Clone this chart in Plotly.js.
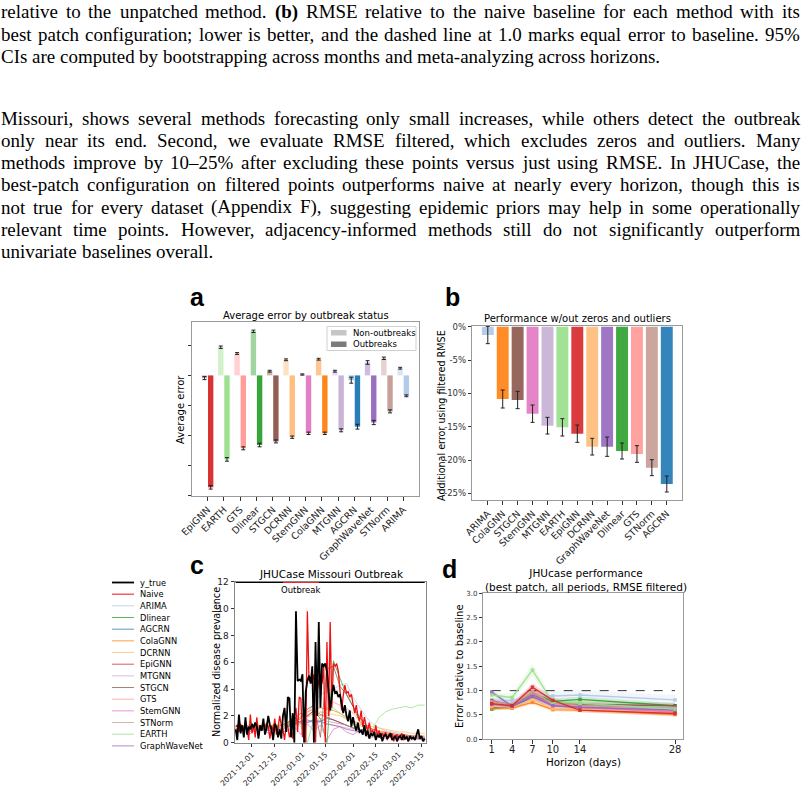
<!DOCTYPE html>
<html><head><meta charset="utf-8">
<script src="https://cdn.plot.ly/plotly-3.0.1.min.js"></script>
<style>html,body{margin:0;padding:0;background:#fff;overflow:hidden}#chart{width:805px;height:790px}</style>
</head><body><div id="chart"></div>
<script>
// ================= DATA =================
// Panel a: average error by outbreak status (unlabelled axis units)
const catsA = ['EpiGNN','EARTH','GTS','Dlinear','STGCN','DCRNN','StemGNN','ColaGNN','MTGNN','AGCRN','GraphWaveNet','STNorm','ARIMA'];
const nonOutbreakA = [-0.09, 0.94, 0.73, 1.47, 0.14, 0.52, 0.03, 0.54, 0.14, -0.16, 0.43, 0.57, 0.24];
const nonOutbreakErrA = [0.05, 0.04, 0.03, 0.04, 0.03, 0.03, 0.02, 0.03, 0.03, 0.10, 0.06, 0.04, 0.03];
const outbreakA = [-3.73, -2.80, -2.43, -2.32, -2.20, -2.06, -1.93, -1.93, -1.83, -1.71, -1.57, -1.20, -0.68];
const outbreakErrA = [0.06, 0.06, 0.05, 0.06, 0.05, 0.04, 0.04, 0.04, 0.05, 0.08, 0.07, 0.05, 0.03];

// Panel b: additional error using filtered RMSE (%)
const catsB = ['ARIMA','ColaGNN','STGCN','StemGNN','MTGNN','EARTH','EpiGNN','DCRNN','GraphWaveNet','Dlinear','GTS','STNorm','AGCRN'];
const filteredB = [-1.25, -10.85, -11.0, -13.05, -14.85, -15.1, -16.05, -18.0, -18.0, -18.65, -19.1, -21.15, -23.6];
const filteredErrB = [1.3, 1.35, 1.3, 1.3, 1.25, 1.3, 1.3, 1.25, 1.45, 1.2, 1.25, 1.2, 1.2];
const pctTicksB = [0, -5, -10, -15, -20, -25];
const pctLabelsB = ['0%', '-5%', '-10%', '-15%', '-20%', '-25%'];

// Panel c: JHUCase Missouri (daily from 2021-11-21, 117 days)
const cStart = '2021-11-21';
const yTrue = [1.0,0.2,2.1,0.7,1.3,0.4,1.9,0.6,1.2,1.0,
  1.4,1.1,1.5,1.2,0.3,1.3,0.9,1.8,0.6,1.1,
  2.0,1.3,1.0,0.2,1.4,1.2,0.4,1.0,0.3,2.0,
  2.6,0.8,3.4,3.3,0.4,2.2,0.0,9.8,4.6,4.7,
  4.6,5.1,0.0,3.8,4.6,5.0,4.4,5.7,0.0,7.5,
  2.0,9.0,2.6,5.9,5.7,5.9,5.3,3.9,2.4,3.5,
  4.3,3.7,3.8,3.4,3.6,2.9,2.2,2.8,2.0,1.6,
  2.4,1.2,1.9,1.3,0.9,1.5,0.8,0.9,0.6,1.3,
  0.5,0.9,0.3,0.7,0.5,0.8,0.2,0.6,0.4,0.7,
  0.1,0.5,0.6,0.3,0.5,0.7,0.2,0.4,0.5,0.1,
  0.4,0.5,0.2,0.6,0.3,0.4,0.1,0.5,0.3,0.4,
  0.2,0.6,1.0,0.3,0.5,0.1,0.3];
const naive = [1.2,1.3,0.8,1.4,1.1,0.9,1.3,
  1.0,0.2,2.1,0.7,1.3,0.4,1.9,0.6,1.2,1.0,
  1.4,1.1,1.5,1.2,0.3,1.3,0.9,1.8,0.6,1.1,
  2.0,1.3,1.0,0.2,1.4,1.2,0.4,1.0,0.3,2.0,
  2.6,0.8,3.4,3.3,0.4,2.2,0.0,9.8,4.6,4.7,
  4.6,5.1,0.0,3.8,4.6,5.0,4.4,5.7,0.0,7.5,
  2.0,9.0,2.6,5.9,5.7,5.9,5.3,3.9,2.4,3.5,
  4.3,3.7,3.8,3.4,3.6,2.9,2.2,2.8,2.0,1.6,
  2.4,1.2,1.9,1.3,0.9,1.5,0.8,0.9,0.6,1.3,
  0.5,0.9,0.3,0.7,0.5,0.8,0.2,0.6,0.4,0.7,
  0.1,0.5,0.6,0.3,0.5,0.7,0.2,0.4,0.5,0.1];
// model forecasts, every 4th day from 2021-11-21
const c_ARIMA   = [1.1,1.0,1.2,1.1,1.0,1.2,1.1,1.0,1.3,1.4,1.6,2.2,2.9,3.6,3.8,4.0,4.3,4.4,3.4,2.6,1.9,1.4,1.1,0.9,0.8,0.7,0.6,0.5,0.5,0.4];
const c_Dlinear = [1.0,1.2,0.9,1.1,1.0,1.2,0.9,1.1,1.5,1.9,1.4,2.0,2.4,1.8,0.0,6.1,4.8,3.6,2.7,1.6,1.1,0.8,0.6,0.5,0.5,0.4,0.4,0.3,0.3,0.3];
const c_AGCRN   = [1.0,1.1,1.0,1.2,1.1,1.0,1.2,1.1,1.3,1.4,1.6,1.7,1.5,1.6,1.8,1.7,1.5,1.3,1.1,1.0,0.8,0.7,0.6,0.5,0.5,0.4,0.4,0.3,0.3,0.3];
const c_ColaGNN = [1.3,1.2,1.3,1.2,1.3,1.2,1.3,1.3,1.4,1.5,2.0,2.3,2.5,2.6,2.5,2.4,2.2,1.9,1.6,1.4,1.2,1.0,0.9,0.8,0.7,0.6,0.6,0.5,0.5,0.5];
const c_DCRNN   = [1.2,1.3,1.2,1.4,1.3,1.2,1.4,1.3,1.5,1.7,1.9,2.1,2.2,2.3,2.2,2.1,2.0,1.8,1.6,1.5,1.3,1.2,1.1,1.0,0.9,0.8,0.8,0.7,0.7,0.7];
const c_EpiGNN  = [1.0,1.2,1.1,1.3,1.0,1.2,1.1,1.3,1.5,1.8,2.2,2.0,2.4,2.1,1.9,1.7,1.5,1.3,1.1,1.0,0.9,0.8,0.7,0.6,0.6,0.5,0.5,0.5,0.4,0.4];
const c_MTGNN   = [0.9,1.0,0.9,1.1,1.0,0.9,1.0,1.1,1.2,1.3,1.4,1.5,1.6,1.5,1.4,1.3,1.2,1.1,1.0,0.9,0.8,0.8,0.7,0.6,0.6,0.5,0.5,0.4,0.4,0.4];
const c_STGCN   = [0.9,1.1,0.8,1.0,1.2,0.9,1.1,1.0,1.3,1.6,1.8,2.5,2.8,0.4,5.5,5.7,4.2,3.6,2.7,1.9,1.3,1.0,0.8,0.7,0.6,0.5,0.5,0.4,0.4,0.3];
const c_GTS     = [1.1,1.3,1.0,1.2,1.1,1.3,1.2,1.0,1.4,1.7,1.5,1.9,2.2,2.0,2.6,3.0,2.8,2.6,2.2,1.6,1.2,0.9,0.8,0.7,0.6,0.6,0.5,0.5,0.4,0.4];
const c_StemGNN = [0.8,1.0,0.6,0.9,1.1,0.7,1.0,0.8,0.9,1.2,0.6,1.4,0.9,1.3,0.2,1.0,1.2,0.8,0.6,0.9,0.5,0.4,0.6,0.3,0.4,0.2,0.3,0.2,0.3,0.1];
const c_STNorm  = [1.1,1.0,1.2,1.1,1.0,1.2,1.1,1.2,1.3,1.4,1.5,1.6,1.7,1.8,1.6,1.5,1.4,1.3,1.1,1.0,0.9,0.8,0.7,0.7,0.6,0.6,0.5,0.5,0.5,0.4];
const c_EARTH   = [1.2,1.0,1.3,1.1,1.2,1.0,1.4,1.1,1.3,1.6,1.2,0.0,1.8,2.3,2.0,2.6,2.2,1.7,1.4,1.3,1.0,1.0,1.9,2.3,2.5,2.6,2.7,2.6,2.8,2.8];
const c_GraphWaveNet = [1.0,0.9,1.1,1.0,0.9,1.1,1.0,0.9,1.2,1.4,1.6,1.5,1.7,1.6,1.4,1.3,1.2,1.0,0.9,0.8,0.7,0.6,0.6,0.5,0.5,0.4,0.4,0.4,0.3,0.3];
const outbreakStart = '2021-12-20', outbreakEnd = '2022-01-11';
const cTickDates = ['2021-12-01','2021-12-15','2022-01-01','2022-01-15','2022-02-01','2022-02-15','2022-03-01','2022-03-15'];

// Panel d: error relative to baseline by horizon
const horizons = [1, 4, 7, 10, 14, 28];
const d_ARIMA   = [0.78,0.80,0.92,0.89,0.91,0.81]; const h_ARIMA   = [0.06,0.08,0.10,0.10,0.10,0.10];
const d_Dlinear = [0.62,0.69,0.95,0.78,0.82,0.69]; const h_Dlinear = [0.04,0.05,0.07,0.06,0.06,0.05];
const d_AGCRN   = [0.66,0.66,0.88,0.72,0.70,0.60]; const h_AGCRN   = [0.04,0.05,0.07,0.05,0.05,0.05];
const d_ColaGNN = [0.64,0.64,0.76,0.61,0.60,0.51]; const h_ColaGNN = [0.04,0.04,0.05,0.04,0.04,0.04];
const d_DCRNN   = [0.68,0.66,0.82,0.63,0.62,0.55]; const h_DCRNN   = [0.05,0.05,0.07,0.05,0.05,0.05];
const d_EpiGNN  = [0.73,0.69,1.07,0.80,0.60,0.53]; const h_EpiGNN  = [0.05,0.05,0.08,0.06,0.05,0.05];
const d_MTGNN   = [0.70,0.70,0.90,0.72,0.68,0.62]; const h_MTGNN   = [0.05,0.05,0.07,0.05,0.05,0.05];
const d_STGCN   = [0.80,0.68,0.91,0.74,0.72,0.69]; const h_STGCN   = [0.05,0.05,0.07,0.06,0.06,0.06];
const d_GTS     = [0.75,0.70,1.00,0.72,0.68,0.58]; const h_GTS     = [0.06,0.06,0.09,0.06,0.06,0.06];
const d_StemGNN = [0.72,0.68,0.90,0.70,0.66,0.56]; const h_StemGNN = [0.05,0.05,0.07,0.05,0.05,0.05];
const d_STNorm  = [0.78,0.72,0.95,0.74,0.70,0.64]; const h_STNorm  = [0.07,0.06,0.09,0.07,0.07,0.07];
const d_EARTH   = [0.91,0.86,1.42,0.76,0.74,0.62]; const h_EARTH   = [0.06,0.08,0.12,0.07,0.07,0.07];
const d_GraphWaveNet = [0.97,0.68,0.88,0.69,0.66,0.60]; const h_GraphWaveNet = [0.05,0.05,0.07,0.05,0.05,0.05];
const baselineLevel = 1.0;

// Page text
const captionLines = [
  'relative to the unpatched method. <b>(b)</b> RMSE relative to the naive baseline for each method with its',
  'best patch configuration; lower is better, and the dashed line at 1.0 marks equal error to baseline. 95%',
  'CIs are computed by bootstrapping across months and meta-analyzing across horizons.'
];
const paragraphLines = [
  'Missouri, shows several methods forecasting only small increases, while others detect the outbreak',
  'only near its end. Second, we evaluate RMSE filtered, which excludes zeros and outliers. Many',
  'methods improve by 10–25% after excluding these points versus just using RMSE. In JHUCase, the',
  'best-patch configuration on filtered points outperforms naive at nearly every horizon, though this is',
  'not true for every dataset (Appendix F), suggesting epidemic priors may help in some operationally',
  'relevant time points. However, adjacency-informed methods still do not significantly outperform',
  'univariate baselines overall.'
];

// ================= STYLE =================
const COLOR = {
  EpiGNN:'#d62728', EARTH:'#98df8a', GTS:'#ff9896', Dlinear:'#2ca02c', STGCN:'#8c564b',
  DCRNN:'#ffbb78', StemGNN:'#e377c2', ColaGNN:'#ff7f0e', MTGNN:'#c5b0d5', AGCRN:'#1f77b4',
  GraphWaveNet:'#9467bd', STNorm:'#c49c94', ARIMA:'#aec7e8'
};
function rgba(hex, a){ const n = parseInt(hex.slice(1),16); return `rgba(${n>>16},${(n>>8)&255},${n&255},${a})`; }
const W = 805, H = 790;
const px = x => x / W;
const py = y => 1 - y / H;
const FONT = 'DejaVu Sans';

function dayList(start, n, step){
  const t0 = Date.parse(start + 'T00:00:00Z'); const out = [];
  for(let k=0;k<n;k++) out.push(new Date(t0 + k*step*86400000).toISOString().slice(0,10));
  return out;
}
const datesDaily = dayList(cStart, yTrue.length, 1);
const dates4 = dayList(cStart, c_ARIMA.length, 4);

const axBase = {showline:true, mirror:true, linecolor:'#9a9a9a', linewidth:1, ticks:'outside', ticklen:3.5,
  tickwidth:1, tickcolor:'#333', showgrid:false, zeroline:false, fixedrange:true,
  tickfont:{family:FONT, size:9, color:'#222'}};

const traces = [];
// ---- panel a ----
traces.push({type:'bar', x:catsA, y:nonOutbreakA, width:0.33, offset:-0.36, xaxis:'x', yaxis:'y',
  marker:{color:catsA.map(c=>rgba(COLOR[c],0.45))},
  error_y:{type:'data', array:nonOutbreakErrA, visible:true, color:'#222', thickness:1, width:2}, hoverinfo:'skip'});
traces.push({type:'bar', x:catsA, y:outbreakA, width:0.33, offset:0.02, xaxis:'x', yaxis:'y',
  marker:{color:catsA.map(c=>rgba(COLOR[c],0.95))},
  error_y:{type:'data', array:outbreakErrA, visible:true, color:'#222', thickness:1, width:2}, hoverinfo:'skip'});
// ---- panel b ----
traces.push({type:'bar', x:catsB, y:filteredB, width:0.8, xaxis:'x2', yaxis:'y2',
  marker:{color:catsB.map(c=>rgba(COLOR[c],0.9))},
  error_y:{type:'data', array:filteredErrB, visible:true, color:'#222', thickness:1, width:2}, hoverinfo:'skip'});
// ---- panel c ----
const cSeries = [['ARIMA',c_ARIMA],['Dlinear',c_Dlinear],['AGCRN',c_AGCRN],['ColaGNN',c_ColaGNN],['DCRNN',c_DCRNN],
  ['EpiGNN',c_EpiGNN],['MTGNN',c_MTGNN],['STGCN',c_STGCN],['GTS',c_GTS],['StemGNN',c_StemGNN],['STNorm',c_STNorm],
  ['EARTH',c_EARTH],['GraphWaveNet',c_GraphWaveNet]];
cSeries.forEach(([m,v])=>traces.push({type:'scatter', mode:'lines', x:dates4, y:v, xaxis:'x3', yaxis:'y3',
  line:{color:COLOR[m], width:1}, opacity:0.75, hoverinfo:'skip'}));
const NAIVE_COLOR = '#f01010';
traces.push({type:'scatter', mode:'lines', x:datesDaily, y:naive, xaxis:'x3', yaxis:'y3', line:{color:NAIVE_COLOR, width:1.3}, hoverinfo:'skip'});
traces.push({type:'scatter', mode:'lines', x:datesDaily, y:yTrue, xaxis:'x3', yaxis:'y3', line:{color:'#000', width:1.8}, hoverinfo:'skip'});
// outbreak indicator bar at top
traces.push({type:'scatter', mode:'lines', x:[datesDaily[0], datesDaily[datesDaily.length-1]], y:[12,12], xaxis:'x3', yaxis:'y3',
  line:{color:'#000', width:2.5}, cliponaxis:false, hoverinfo:'skip'});
traces.push({type:'scatter', mode:'lines', x:[outbreakStart, outbreakEnd], y:[12,12], xaxis:'x3', yaxis:'y3',
  line:{color:'#ff2020', width:2.5}, cliponaxis:false, hoverinfo:'skip'});
// ---- panel d ----
const dSeries = [['ARIMA',d_ARIMA,h_ARIMA],['Dlinear',d_Dlinear,h_Dlinear],['AGCRN',d_AGCRN,h_AGCRN],['ColaGNN',d_ColaGNN,h_ColaGNN],
  ['DCRNN',d_DCRNN,h_DCRNN],['MTGNN',d_MTGNN,h_MTGNN],['STGCN',d_STGCN,h_STGCN],['GTS',d_GTS,h_GTS],
  ['StemGNN',d_StemGNN,h_StemGNN],['STNorm',d_STNorm,h_STNorm],['GraphWaveNet',d_GraphWaveNet,h_GraphWaveNet],
  ['EARTH',d_EARTH,h_EARTH],['EpiGNN',d_EpiGNN,h_EpiGNN]];
dSeries.forEach(([m,v,h])=>{
  traces.push({type:'scatter', mode:'lines', x:horizons, y:v.map((a,i)=>a-h[i]), xaxis:'x4', yaxis:'y4', line:{width:0}, hoverinfo:'skip'});
  traces.push({type:'scatter', mode:'lines', x:horizons, y:v.map((a,i)=>a+h[i]), xaxis:'x4', yaxis:'y4', line:{width:0},
    fill:'tonexty', fillcolor:rgba(COLOR[m],0.16), hoverinfo:'skip'});
});
traces.push({type:'scatter', mode:'lines', x:[horizons[0], horizons[horizons.length-1]], y:[baselineLevel, baselineLevel], xaxis:'x4', yaxis:'y4',
  line:{color:'#333', width:1, dash:'dash'}, hoverinfo:'skip'});
dSeries.forEach(([m,v])=>{
  traces.push({type:'scatter', mode:'lines+markers', x:horizons, y:v, xaxis:'x4', yaxis:'y4',
    line:{color:COLOR[m], width:1.4}, marker:{color:COLOR[m], size:3.5, symbol:'square'}, opacity:0.9, hoverinfo:'skip'});
});

// ================= ANNOTATIONS / SHAPES =================
const ann = [];
const shapes = [];
function txt(text, x, y, size, opts){
  ann.push(Object.assign({text, x:px(x), y:py(y), xref:'paper', yref:'paper', showarrow:false,
    xanchor:'center', yanchor:'middle', borderpad:0, font:{family:FONT, size, color:'#000'}}, opts||{}));
}
// subplot titles
txt('Average error by outbreak status', 306, 315, 10);
txt('Performance w/out zeros and outliers', 577, 319, 10);
txt('JHUCase Missouri Outbreak', 331, 574, 10.5);
txt('JHUcase performance<br>(best patch, all periods, RMSE filtered)', 586, 580, 10.5);
// axis titles
txt('Average error', 180, 410, 10, {textangle:-90});
txt('Additional error using filtered RMSE', 441, 415, 9.6, {textangle:-90});
txt('Normalized disease prevalence', 216, 662, 9.6, {textangle:-90});
txt('Error relative to baseline', 459, 666, 10, {textangle:-90});
txt('Horizon (days)', 583, 762, 10.3);
// panel letters
['a','b','c','d'].forEach((l,i)=>{
  const pos = [[197,297],[452,297],[197,565],[450,569]][i];
  txt('<b>'+l+'</b>', pos[0], pos[1], 25, {font:{family:'Liberation Sans', size:25, color:'#000'}});
});
// outbreak label
ann.push({text:'Outbreak', x:'2021-12-31', y:11.35, xref:'x3', yref:'y3', showarrow:false, xanchor:'center', yanchor:'middle',
  font:{family:FONT, size:8.5, color:'#000'}});
// panel a legend
shapes.push({type:'rect', xref:'paper', yref:'paper', x0:px(327), x1:px(416), y0:py(326.5), y1:py(350.5),
  line:{color:'#d0d0d0', width:1}, fillcolor:'rgba(255,255,255,0.85)'});
shapes.push({type:'rect', xref:'paper', yref:'paper', x0:px(331), x1:px(346.5), y0:py(330), y1:py(335.5), line:{width:0}, fillcolor:'#c6c6c6'});
shapes.push({type:'rect', xref:'paper', yref:'paper', x0:px(331), x1:px(346.5), y0:py(341.5), y1:py(347), line:{width:0}, fillcolor:'#7c7c7c'});
txt('Non-outbreaks', 352, 332.7, 8.5, {xanchor:'left'});
txt('Outbreaks', 352, 344.3, 8.5, {xanchor:'left'});
// panel c legend
const legC = [['y_true','#000',1.8,1],['Naive',NAIVE_COLOR,1,1]].concat(
  ['ARIMA','Dlinear','AGCRN','ColaGNN','DCRNN','EpiGNN','MTGNN','STGCN','GTS','StemGNN','STNorm','EARTH','GraphWaveNet']
  .map(m=>[m, COLOR[m], 1, 0.75]));
legC.forEach(([name,col,w,op],k)=>{
  const y = 582.5 + k*11.67;
  shapes.push({type:'line', xref:'paper', yref:'paper', x0:px(112), x1:px(134), y0:py(y), y1:py(y), line:{color:col, width:w}, opacity:op});
  txt(name, 139, y, 8.3, {xanchor:'left'});
});

// page text, justified
const SERIF = 'Liberation Serif';
const cvs = document.createElement('canvas').getContext('2d');
function meas(t, size, bold){ cvs.font = (bold?'bold ':'') + size + 'px "' + SERIF + '"'; return cvs.measureText(t).width; }
const refLine = captionLines[2];
const serifSize = +(18 * 660 / meas(refLine, 18)).toFixed(2);
function textLine(line, y, justify){
  const words = line.split(' ').map(w=>({t:w.replace(/<\/?b>/g,''), b:/<b>/.test(w)}));
  const widths = words.map(w=>meas(w.t, serifSize, w.b));
  const total = widths.reduce((a,b)=>a+b,0);
  const gap = justify ? (800 - 1 - total)/(words.length-1) : meas(' ', serifSize, false);
  let x = 1;
  words.forEach((w,i)=>{
    ann.push({text: w.b ? '<b>'+w.t+'</b>' : w.t, x:px(x), y:py(y), xref:'paper', yref:'paper', showarrow:false,
      xanchor:'left', yanchor:'middle', borderpad:0, borderwidth:0, font:{family:SERIF, size:serifSize, color:'#000'}});
    x += widths[i] + gap;
  });
}
[12, 34, 56].forEach((y,i)=>textLine(captionLines[i], y, i < 2));
paragraphLines.forEach((l,i)=>textLine(l, 118 + i*22.3, i < paragraphLines.length-1));

// ================= LAYOUT =================
const layout = {
  width:W, height:H, margin:{l:0,r:0,t:0,b:0}, paper_bgcolor:'#fff', plot_bgcolor:'#fff', showlegend:false,
  barmode:'overlay', font:{family:FONT, color:'#000'},
  xaxis: Object.assign({}, axBase, {domain:[px(192), px(419)], range:[-0.96, 12.96], tickangle:-45,
    tickfont:{family:FONT, size:9.5, color:'#222'}, anchor:'y'}),
  yaxis: Object.assign({}, axBase, {domain:[py(496), py(322)], range:[-4.02, 1.78], tickvals:[-4,-3,-2,-1,0,1], showticklabels:false, anchor:'x'}),
  xaxis2: Object.assign({}, axBase, {domain:[px(472.3), px(682.3)], range:[-1.04, 13.04], tickangle:-45,
    tickfont:{family:FONT, size:9.5, color:'#222'}, anchor:'y2'}),
  yaxis2: Object.assign({}, axBase, {domain:[py(500), py(326)], range:[-26, 0.1], tickvals:pctTicksB, ticktext:pctLabelsB,
    tickfont:{family:FONT, size:8.5, color:'#333'}, anchor:'x2'}),
  xaxis3: Object.assign({}, axBase, {type:'date', domain:[px(235), px(426)], range:['2021-11-20 14:00','2022-03-17 19:00'],
    tickvals:cTickDates, ticktext:cTickDates, tickangle:-45, tickfont:{family:FONT, size:7.6, color:'#222'}, anchor:'y3', linecolor:'#888'}),
  yaxis3: Object.assign({}, axBase, {domain:[py(742.7), py(581.7)], range:[0, 12], dtick:2, tick0:0,
    tickfont:{family:FONT, size:9, color:'#222'}, anchor:'x3', linecolor:'#888'}),
  xaxis4: Object.assign({}, axBase, {domain:[px(483.3), px(683.3)], range:[-0.24, 29.22], tickvals:horizons,
    tickfont:{family:FONT, size:10, color:'#222'}, ticklabelstandoff:-3, anchor:'y4'}),
  yaxis4: Object.assign({}, axBase, {domain:[py(739.3), py(593.3)], range:[0, 3], dtick:0.5, tick0:0, tickformat:'.1f',
    tickfont:{family:FONT, size:7, color:'#333'}, anchor:'x4'}),
  annotations: ann, shapes: shapes
};
Plotly.newPlot('chart', traces, layout, {staticPlot:true, displayModeBar:false});
</script></body></html>
